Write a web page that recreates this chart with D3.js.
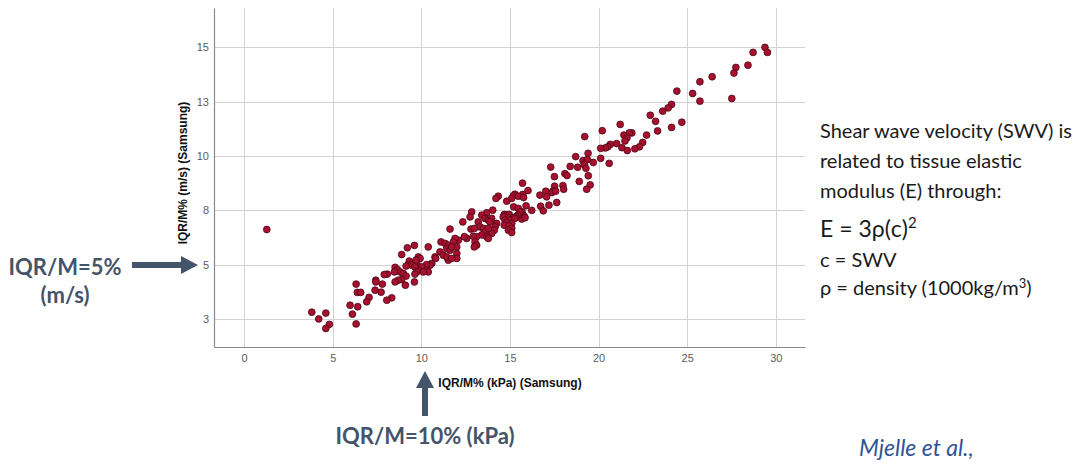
<!DOCTYPE html>
<html>
<head>
<meta charset="utf-8">
<script src="https://cdn.jsdelivr.net/npm/d3@7"></script>
<style>
  html, body { margin: 0; padding: 0; background: #fff; }
  svg { display: block; }
</style>
</head>
<body>
<script>
// Axis ticks (y ticks are every 2.5, printed rounded to whole numbers)
const xTicks = [0, 5, 10, 15, 20, 25, 30];
const yTicks = [2.5, 5, 7.5, 10, 12.5, 15];
const yTickLabels = ["3", "5", "8", "10", "13", "15"];
const xTitle = "IQR/M% (kPa) (Samsung)";
const yTitle = "IQR/M% (m/s) (Samsung)";

// Paired measurements: [IQR/M% in kPa, IQR/M% in m/s]
const iqrPairs = [
  [29.39,14.99],[29.53,14.76],[28.72,14.76],[28.43,14.17],[27.75,14.07],[27.64,13.81],[27.52,12.64],
  [26.41,13.64],[25.72,13.41],[25.31,12.87],[25.72,12.52],[24.42,12.98],[24.12,12.37],[23.93,12.21],
  [23.62,12.06],[22.92,11.87],[23.22,11.59],[23.33,11.15],[24.12,11.31],[24.70,11.55],[22.71,10.96],
  [22.49,10.62],[22.31,10.42],[22.05,10.33],[21.88,11.06],[21.74,11.06],[21.43,10.96],[21.60,10.83],
  [21.49,10.69],[21.22,11.45],[21.32,10.38],[21.62,10.25],[21.02,10.57],[20.66,10.53],[20.53,10.42],
  [20.38,10.37],[20.12,10.35],[20.21,11.16],[19.22,10.89],[19.41,10.12],[20.12,9.89],[20.60,9.66],
  [18.71,9.97],[19.12,9.78],[19.37,9.83],[19.20,9.60],[19.29,9.43],[18.82,9.48],[19.70,9.70],
  [18.40,9.52],[17.30,9.49],[17.51,9.05],[18.10,9.19],[18.22,9.10],[19.42,9.09],[18.91,8.83],
  [15.71,8.75],[19.53,8.67],[19.33,8.47],[17.99,8.64],[18.03,8.47],[17.52,8.61],[17.45,8.40],
  [17.37,8.32],[17.58,8.38],[17.02,8.38],[17.07,8.12],[16.69,8.20],[17.64,7.86],[17.20,7.74],
  [16.73,7.69],[16.88,7.48],[16.23,7.50],[15.72,8.23],[16.02,8.41],[15.91,7.71],[15.68,7.43],
  [15.75,7.28],[15.66,7.10],[15.83,7.20],[15.28,8.24],[15.19,8.17],[15.47,8.15],[15.77,8.09],
  [14.34,8.15],[14.21,8.05],[14.82,7.92],[15.10,8.05],[15.21,7.66],[15.47,7.59],[15.57,7.43],
  [15.85,7.16],[15.44,7.28],[15.34,7.20],
  [14.68,7.31],[14.82,7.28],[14.96,7.31],[14.62,7.20],[14.91,7.16],[15.19,7.17],[14.72,7.05],
  [15.00,7.05],[15.28,7.13],[14.82,6.94],[15.10,6.90],[14.68,6.82],[14.95,6.79],[15.10,6.67],
  [14.91,6.59],[15.10,6.48],
  [14.03,7.51],[13.69,7.39],[13.41,7.28],[12.84,7.43],[12.75,7.20],[13.21,6.97],[13.31,6.74],
  [13.59,7.13],[13.78,7.05],[13.97,7.13],[13.87,6.97],[14.25,6.90],[14.16,6.74],[14.12,6.59],
  [13.97,6.44],[12.34,6.97],[11.62,6.64],[12.80,6.64],[12.99,6.67],[13.50,6.67],[13.59,6.52],
  [13.41,6.37],[13.69,6.29],[13.12,6.29],[12.93,6.31],[12.56,6.21],[12.43,6.29],[12.09,6.13],
  [11.90,6.21],[11.81,6.05],[12.00,5.82],[13.03,6.05],[13.12,5.90],[12.99,5.82],[11.11,6.05],
  [11.34,5.98],[11.52,5.90],[11.43,5.75],[11.62,5.67],[11.71,5.82],[10.39,5.82],[11.05,5.59],
  [11.24,5.44],[11.52,5.21],[11.43,5.36],[10.77,5.36],[10.81,5.29],[10.59,5.06],[10.49,4.98],
  [10.30,5.01],[12.00,5.52],[12.00,5.29],[11.71,5.29],[9.83,5.36],[9.93,5.29],[9.74,5.06],
  [10.02,4.90],[10.30,4.75],[10.39,4.67],[9.83,4.75],[10.11,4.67],[13.78,6.67],[13.78,6.21],
  [9.61,5.89],[9.21,5.78],[8.89,5.47],[9.70,5.21],[9.32,5.17],[9.27,5.01],[9.46,4.98],
  [9.14,4.94],[8.52,4.88],[8.65,4.78],[8.80,4.67],[8.48,4.67],[8.98,4.60],[8.08,4.57],
  [7.91,4.55],[9.14,4.48],[9.64,4.90],[9.74,4.67],[9.64,4.57],[8.89,4.32],[8.70,4.29],
  [8.52,4.21],[9.61,4.21],[9.10,4.06],[7.43,4.29],[7.43,4.21],[7.80,4.11],[7.39,3.83],
  [7.73,3.74],[6.32,4.11],[6.39,3.73],[6.58,3.73],[7.05,3.50],[6.92,3.30],[8.33,3.48],
  [8.05,3.37],[5.98,3.14],[6.41,3.07],[6.11,2.73],[6.32,2.28],[3.82,2.82],[4.21,2.51],
  [4.61,2.78],[4.81,2.26],[4.61,2.07],[1.28,6.62]
];

const W = 1076, H = 464;
const plot = { left: 214, right: 805, top: 8, bottom: 347 };
const slate = "#44546A";

const svg = d3.select("body").append("svg")
  .attr("width", W).attr("height", H)
  .attr("viewBox", `0 0 ${W} ${H}`);

const x = d3.scaleLinear().domain([-1.7, 31.65]).range([plot.left, plot.right]);
const y = d3.scaleLinear().domain([1.22, 16.8]).range([plot.bottom, plot.top]);

// Grid
const grid = svg.append("g").attr("stroke", "#d3d3d3").attr("stroke-width", 1);
grid.selectAll("line.v").data(xTicks).join("line").attr("class", "v")
  .attr("x1", d => Math.round(x(d)) + 0.5).attr("x2", d => Math.round(x(d)) + 0.5)
  .attr("y1", plot.top).attr("y2", plot.bottom);
grid.selectAll("line.h").data(yTicks).join("line").attr("class", "h")
  .attr("x1", plot.left).attr("x2", plot.right)
  .attr("y1", d => Math.round(y(d)) + 0.5).attr("y2", d => Math.round(y(d)) + 0.5);

// Axes
const xAxis = svg.append("g")
  .attr("transform", `translate(0,${plot.bottom})`)
  .call(d3.axisBottom(x).tickValues(xTicks).tickSize(0).tickPadding(7).tickFormat(d3.format("d")));
const yAxis = svg.append("g")
  .attr("transform", `translate(${plot.left},0)`)
  .call(d3.axisLeft(y).tickValues(yTicks).tickSize(0).tickPadding(5)
    .tickFormat((d, i) => yTickLabels[i]));
[xAxis, yAxis].forEach(g => {
  g.select(".domain").attr("stroke", "#8a8a8a").attr("stroke-width", 1.2);
  g.selectAll("text").attr("font-family", "'Liberation Sans', Arial, sans-serif")
    .attr("font-size", 11).attr("fill", "#5c5c5c");
});

// Axis titles
svg.append("text")
  .attr("x", 510).attr("y", 387)
  .attr("text-anchor", "middle")
  .attr("font-family", "'Liberation Sans', Arial, sans-serif")
  .attr("font-size", 12).attr("font-weight", "bold").attr("fill", "#111")
  .text(xTitle);
svg.append("text")
  .attr("transform", "translate(187,173) rotate(-90)")
  .attr("text-anchor", "middle")
  .attr("font-family", "'Liberation Sans', Arial, sans-serif")
  .attr("font-size", 12).attr("font-weight", "bold").attr("fill", "#111")
  .text(yTitle);

// Points
svg.append("g")
  .selectAll("circle").data(iqrPairs).join("circle")
  .attr("cx", d => x(d[0])).attr("cy", d => y(d[1]))
  .attr("r", 3.4)
  .attr("fill", "#a8102f").attr("stroke", "#4a0814").attr("stroke-width", 0.8);

// Threshold call-outs
svg.append("path")
  .attr("d", "M132,262 L181,262 L181,256 L198,265 L181,274 L181,268 L132,268 Z")
  .attr("fill", slate);
svg.append("path")
  .attr("d", "M422,416 L422,388 L416,388 L425,371 L434,388 L428,388 L428,416 Z")
  .attr("fill", slate);

const callout = svg.append("g")
  .attr("font-family", "Lato, 'Open Sans', sans-serif")
  .attr("font-weight", "bold").attr("font-size", 22).attr("fill", slate)
  .attr("text-anchor", "middle");
callout.append("text").attr("x", 65).attr("y", 275).text("IQR/M=5%");
callout.append("text").attr("x", 65).attr("y", 303).text("(m/s)");
callout.append("text").attr("x", 425).attr("y", 444).text("IQR/M=10% (kPa)");

// Explanatory note
const note = svg.append("g")
  .attr("font-family", "Lato, 'Open Sans', sans-serif")
  .attr("fill", "#1a1a1a").attr("font-size", 20);
note.append("text").attr("x", 820).attr("y", 138).text("Shear wave velocity (SWV) is");
note.append("text").attr("x", 820).attr("y", 168).text("related to tissue elastic");
note.append("text").attr("x", 820).attr("y", 198).text("modulus (E) through:");
const eq = note.append("text").attr("x", 820).attr("y", 237).attr("font-size", 23);
eq.append("tspan").text("E = 3\u03c1(c)");
eq.append("tspan").attr("dy", -9).attr("font-size", 15).text("2");
note.append("text").attr("x", 820).attr("y", 267).text("c = SWV");
const rho = note.append("text").attr("x", 820).attr("y", 295);
rho.append("tspan").text("\u03c1 = density (1000kg/m");
rho.append("tspan").attr("dy", -7).attr("font-size", 13).text("3");
rho.append("tspan").attr("dy", 7).text(")");

svg.append("text")
  .attr("x", 859).attr("y", 456)
  .attr("font-family", "Lato, 'Open Sans', sans-serif")
  .attr("font-style", "italic").attr("font-size", 23).attr("fill", "#2F5597")
  .text("Mjelle et al.,");
</script>
</body>
</html>
